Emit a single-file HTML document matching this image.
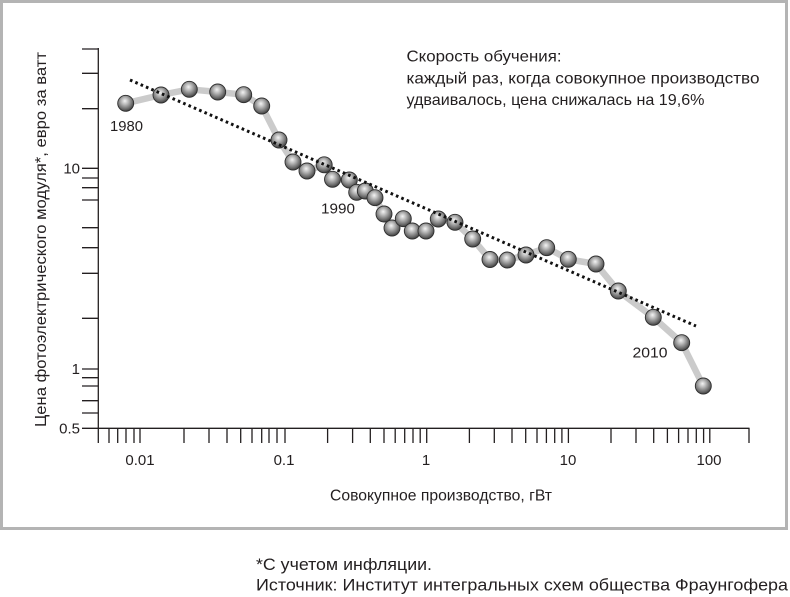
<!DOCTYPE html>
<html><head><meta charset="utf-8">
<style>
html,body{margin:0;padding:0;background:#fff;}
svg{display:block;}
text{font-family:"Liberation Sans","Noto Sans CJK SC",sans-serif;fill:#231f20;}
</style></head>
<body>
<svg width="790" height="597" viewBox="0 0 790 597" xmlns="http://www.w3.org/2000/svg">
<defs>
<radialGradient id="ball" cx="0.45" cy="0.4" r="0.62" fx="0.45" fy="0.35">
<stop offset="0" stop-color="#f4f4f4"/>
<stop offset="0.35" stop-color="#b8b8b8"/>
<stop offset="0.75" stop-color="#6e6e6e"/>
<stop offset="1" stop-color="#3a3a3a"/>
</radialGradient>
</defs>
<rect x="0" y="0" width="790" height="597" fill="#fff"/>
<rect x="1.5" y="1.5" width="785" height="527" fill="none" stroke="#b4b4b4" stroke-width="3"/>

<!-- axes -->
<g stroke="#231f20" stroke-width="1.3" fill="none">
<line x1="98.3" y1="48" x2="98.3" y2="429"/>
<line x1="97.7" y1="428.3" x2="749.5" y2="428.3"/>
<!-- y ticks -->
<path d="M82 49H98 M82 73.3H98 M82 108.7H98 M82 168.3H98 M82 178H98 M82 187.7H98 M82 200H98 M82 227.7H98 M82 247.7H98 M82 273.3H98 M82 318.3H98 M82 369H98 M82 377.7H98 M82 386H98 M82 400.7H98 M82 413H98 M82 428.3H98"/>
<!-- x ticks -->
<path d="M98.3 428V443 M109 428V443 M117.7 428V443 M126 428V443 M134 428V443 M140 428V443 M184 428V443 M209 428V443 M227 428V443 M240.7 428V443 M252 428V443 M261.7 428V443 M269 428V443 M277 428V443 M285 428V443 M327.6 428V443 M352.6 428V443 M370.3 428V443 M384 428V443 M395.2 428V443 M404.7 428V443 M413 428V443 M420.2 428V443 M426.7 428V443 M469.4 428V443 M494.3 428V443 M512 428V443 M525.7 428V443 M537 428V443 M546.4 428V443 M554.7 428V443 M561.9 428V443 M568.4 428V443 M611 428V443 M636 428V443 M653.7 428V443 M667.4 428V443 M678.6 428V443 M688 428V443 M696.3 428V443 M703.6 428V443 M709.8 428V443 M749 428V443"/>
</g>

<!-- tick labels -->
<g font-size="15">
<text x="80" y="173.5" text-anchor="end">10</text>
<text x="80" y="374" text-anchor="end">1</text>
<text x="80" y="433.5" text-anchor="end">0.5</text>
<text x="140" y="465" text-anchor="middle">0.01</text>
<text x="284" y="465" text-anchor="middle">0.1</text>
<text x="426" y="465" text-anchor="middle">1</text>
<text x="568" y="465" text-anchor="middle">10</text>
<text x="709" y="465" text-anchor="middle">100</text>
</g>

<!-- axis titles -->
<text x="330" y="500.5" font-size="15.5" textLength="222" lengthAdjust="spacingAndGlyphs">Совокупное производство, гВт</text>
<text transform="translate(46,427) rotate(-90)" x="0" y="0" font-size="15.5" textLength="375" lengthAdjust="spacingAndGlyphs">Цена фотоэлектрического модуля*, евро за ватт</text>

<!-- annotation -->
<g font-size="16">
<text x="406.5" y="61.5" textLength="155" lengthAdjust="spacingAndGlyphs">Скорость обучения:</text>
<text x="406.5" y="83.5" textLength="353" lengthAdjust="spacingAndGlyphs">каждый раз, когда совокупное производство</text>
<text x="406.5" y="105" textLength="298" lengthAdjust="spacingAndGlyphs">удваивалось, цена снижалась на 19,6%</text>
</g>

<!-- series connecting line -->
<polyline fill="none" stroke="#cbcbcb" stroke-width="6.5" stroke-linejoin="round" stroke-linecap="round"
points="125.7,103.3 161,95 189.3,89.3 217.7,92 243.7,94.7 261.7,106 279,140 293,162 307,171 324.2,164.8 332.5,179.3 349.3,180 356.7,192.3 365.3,191 375,197.7 384,214 392,228 403.3,218.7 412.3,231 426,231 438.3,219 455,222.3 472.7,239 490,259.5 507.3,260 526,255 546.7,247.7 568.3,259.3 596,264 618.3,291 653.3,317.3 681.7,342.7 703.3,386"/>

<!-- markers -->
<g fill="url(#ball)" stroke="#2e2e2e" stroke-width="0.9">
<circle cx="125.7" cy="103.3" r="8"/>
<circle cx="161" cy="95" r="8"/>
<circle cx="189.3" cy="89.3" r="8"/>
<circle cx="217.7" cy="92" r="8"/>
<circle cx="243.7" cy="94.7" r="8"/>
<circle cx="261.7" cy="106" r="8"/>
<circle cx="279" cy="140" r="8"/>
<circle cx="293" cy="162" r="8"/>
<circle cx="307" cy="171" r="8"/>
<circle cx="324.2" cy="164.8" r="8"/>
<circle cx="332.5" cy="179.3" r="8"/>
<circle cx="349.3" cy="180" r="8"/>
<circle cx="356.7" cy="192.3" r="8"/>
<circle cx="365.3" cy="191" r="8"/>
<circle cx="375" cy="197.7" r="8"/>
<circle cx="384" cy="214" r="8"/>
<circle cx="392" cy="228" r="8"/>
<circle cx="403.3" cy="218.7" r="8"/>
<circle cx="412.3" cy="231" r="8"/>
<circle cx="426" cy="231" r="8"/>
<circle cx="438.3" cy="219" r="8"/>
<circle cx="455" cy="222.3" r="8"/>
<circle cx="472.7" cy="239" r="8"/>
<circle cx="490" cy="259.5" r="8"/>
<circle cx="507.3" cy="260" r="8"/>
<circle cx="526" cy="255" r="8"/>
<circle cx="546.7" cy="247.7" r="8"/>
<circle cx="568.3" cy="259.3" r="8"/>
<circle cx="596" cy="264" r="8"/>
<circle cx="618.3" cy="291" r="8"/>
<circle cx="653.3" cy="317.3" r="8"/>
<circle cx="681.7" cy="342.7" r="8"/>
<circle cx="703.3" cy="386" r="8"/>
</g>

<!-- trend line -->
<line x1="130" y1="80" x2="696" y2="326" stroke="#111" stroke-width="3" stroke-dasharray="2.6 3.2"/>

<!-- year labels -->
<g font-size="15">
<text x="110" y="131" textLength="33" lengthAdjust="spacingAndGlyphs">1980</text>
<text x="321" y="213.5" textLength="34" lengthAdjust="spacingAndGlyphs">1990</text>
<text x="632.5" y="357.5" textLength="35" lengthAdjust="spacingAndGlyphs">2010</text>
</g>

<!-- footer -->
<g font-size="17">
<text x="256" y="570" textLength="176" lengthAdjust="spacingAndGlyphs">*С учетом инфляции.</text>
<text x="256" y="590.5" textLength="532" lengthAdjust="spacingAndGlyphs">Источник: Институт интегральных схем общества Фраунгофера</text>
</g>
</svg>
</body></html>
